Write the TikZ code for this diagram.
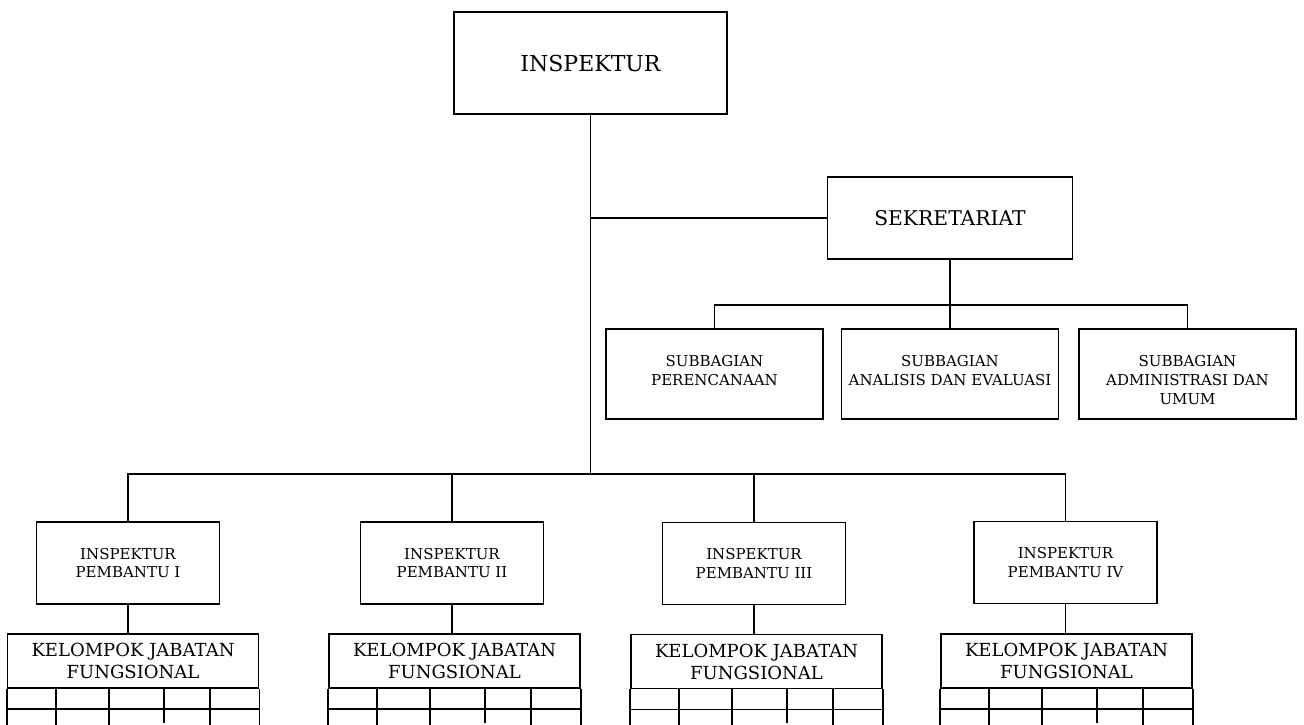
\documentclass[tikz,border=0pt]{standalone}
\usepackage{fontspec}
\setmainfont{DejaVu Serif}
\begin{document}
\begin{tikzpicture}[x=1pt,y=-1pt,
  box/.style={draw, line width=1.8pt, inner sep=0pt, align=center},
  topbox/.style={box, minimum width=273pt, minimum height=102pt, font=\fontsize{22}{26}\selectfont},
  sekbox/.style={box, minimum width=245pt, minimum height=82pt, font=\fontsize{20.3}{24}\selectfont},
  subbox/.style={box, minimum width=217pt, minimum height=90pt, font=\fontsize{15}{19}\selectfont},
  pembox/.style={box, minimum width=183pt, minimum height=82pt, font=\fontsize{15}{18.5}\selectfont},
  kelbox/.style={box, minimum width=251pt, minimum height=54pt, font=\fontsize{18}{22}\selectfont},
  conn/.style={line width=1.8pt},
  grid/.style={line width=1.8pt}
]
\useasboundingbox (0,0) rectangle (1304,724);
\clip (0,0) rectangle (1304,724);

\newcommand{\subtxt}[1]{\parbox[c][90pt][t]{217pt}{\centering\vspace*{26.5pt}#1}}

\node[topbox] (insp) at (590.5,63) {INSPEKTUR};
\node[sekbox] (sek) at (950,218) {SEKRETARIAT};
\node[subbox] (sub1) at (714.5,374) {\subtxt{SUBBAGIAN\\PERENCANAAN}};
\node[subbox] (sub2) at (950,374) {\subtxt{SUBBAGIAN\\ANALISIS DAN EVALUASI}};
\node[subbox] (sub3) at (1187.5,374) {\subtxt{SUBBAGIAN\\ADMINISTRASI DAN\\UMUM}};

\node[pembox] (p1) at (128,563) {INSPEKTUR\\PEMBANTU I};
\node[pembox] (p2) at (452,563) {INSPEKTUR\\PEMBANTU II};
\node[pembox] (p3) at (754,563.5) {INSPEKTUR\\PEMBANTU III};
\node[pembox] (p4) at (1065.5,562.5) {INSPEKTUR\\PEMBANTU IV};

\node[kelbox] (k1) at (133,661) {KELOMPOK JABATAN\\FUNGSIONAL};
\node[kelbox] (k2) at (454.5,661) {KELOMPOK JABATAN\\FUNGSIONAL};
\node[kelbox] (k3) at (756.5,661.5) {KELOMPOK JABATAN\\FUNGSIONAL};
\node[kelbox] (k4) at (1066.5,661) {KELOMPOK JABATAN\\FUNGSIONAL};

\coordinate (bus) at (590.5,474);
\coordinate (sbus) at (950,305);

% main trunk
\draw[conn] (insp.south) -- (bus);
\draw[conn] (insp.south |- sek.west) -- (sek.west);
% secretariat branch
\draw[conn] (sek.south) -- (sub2.north);
\draw[conn] (sub1.north) -- (sub1.north |- sbus) -- (sub3.north |- sbus) -- (sub3.north);
% lower bus
\draw[conn] (p1.north) -- (p1.north |- bus) -- (p4.north |- bus) -- (p4.north);
\draw[conn] (p2.north |- bus) -- (p2.north);
\draw[conn] (p3.north |- bus) -- (p3.north);
% pembantu to kelompok
\foreach \p/\k in {p1/k1,p2/k2,p3/k3,p4/k4}{
  \draw[conn] (\p.south) -- (\p.south |- \k.north);
  \draw[grid] (\k.south west) -- ++(0,40);
  \draw[grid] (\k.south east) -- ++(0,40);
  \draw[grid] ([yshift=-20pt]\k.south west) -- ([yshift=-20pt]\k.south east);
  \draw[grid] ([xshift=49pt]\k.south west) -- ++(0,40);
  \draw[grid] ([xshift=102pt]\k.south west) -- ++(0,40);
  \draw[grid] ([xshift=157pt]\k.south west) -- ++(0,34);
  \draw[grid] ([xshift=203pt]\k.south west) -- ++(0,40);
}
\end{tikzpicture}
\end{document}
